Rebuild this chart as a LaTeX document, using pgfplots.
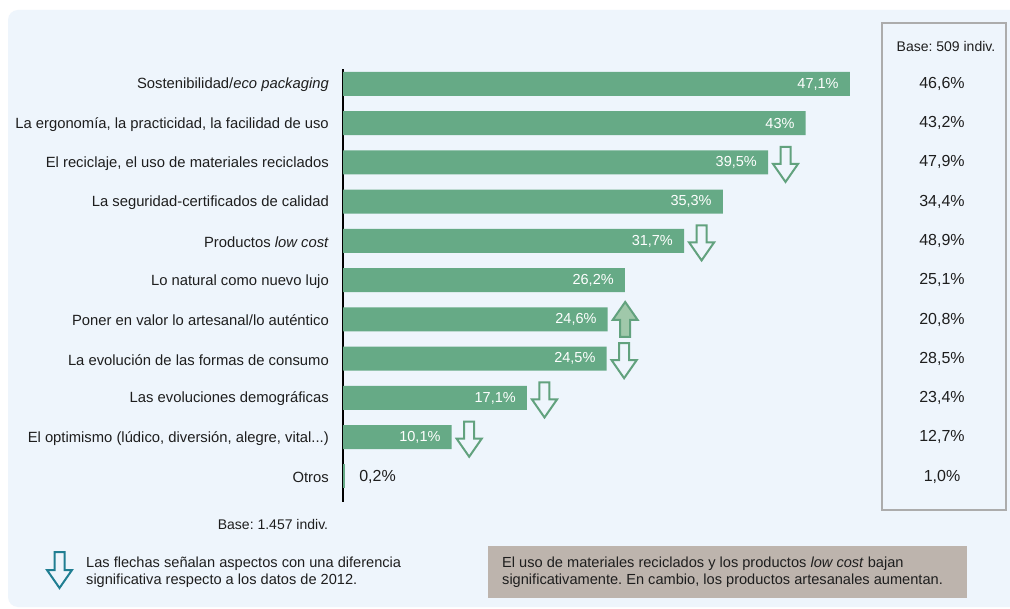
\documentclass[border=0pt]{standalone}
\usepackage{pgfplots}
\pgfplotsset{compat=1.18}
\usepackage{pgfplotstable}
\usepackage{fontspec}
\setmainfont{Liberation Sans}
\frenchspacing

\definecolor{panel}{RGB}{238,245,252}
\definecolor{barra}{RGB}{102,170,134}
\definecolor{flecha}{RGB}{98,162,126}
\definecolor{flechasube}{RGB}{160,200,170}
\definecolor{marco}{RGB}{172,172,172}
\definecolor{nota}{RGB}{189,180,173}
\definecolor{azulflecha}{RGB}{32,126,146}
\definecolor{texto}{RGB}{30,30,30}

% idx = fila, val = dato actual, prev = columna derecha
\pgfplotstableread{
idx val prev
0 47.1 46.6
1 43 43.2
2 39.5 47.9
3 35.3 34.4
4 31.7 48.9
5 26.2 25.1
6 24.6 20.8
7 24.5 28.5
8 17.1 23.4
9 10.1 12.7
10 0.2 1.0
}\datos

\pgfplotstableread{
idx val
2 39.5
4 31.7
7 24.5
8 17.1
9 10.1
}\bajan

\pgfplotstableread{
idx val
6 24.6
}\suben

\pgfdeclareplotmark{flechabaja}{%
  \pgfpathmoveto{\pgfpoint{12.5pt}{15.5pt}}
  \pgfpathlineto{\pgfpoint{22.5pt}{15.5pt}}
  \pgfpathlineto{\pgfpoint{22.5pt}{-1.5pt}}
  \pgfpathlineto{\pgfpoint{30pt}{-1.5pt}}
  \pgfpathlineto{\pgfpoint{17.5pt}{-19.5pt}}
  \pgfpathlineto{\pgfpoint{5pt}{-1.5pt}}
  \pgfpathlineto{\pgfpoint{12.5pt}{-1.5pt}}
  \pgfpathclose
  \pgfusepathqfillstroke}

\pgfdeclareplotmark{flechasube}{%
  \pgfpathmoveto{\pgfpoint{17.5pt}{17.5pt}}
  \pgfpathlineto{\pgfpoint{30pt}{-0.5pt}}
  \pgfpathlineto{\pgfpoint{22.5pt}{-0.5pt}}
  \pgfpathlineto{\pgfpoint{22.5pt}{-17.5pt}}
  \pgfpathlineto{\pgfpoint{12.5pt}{-17.5pt}}
  \pgfpathlineto{\pgfpoint{12.5pt}{-0.5pt}}
  \pgfpathlineto{\pgfpoint{5pt}{-0.5pt}}
  \pgfpathclose
  \pgfusepathqfillstroke}

\newcommand{\fuente}{\fontsize{14.8}{17}\selectfont}
\newcommand{\fuenteval}{\fontsize{14.5}{17}\selectfont}
\newcommand{\fuentecol}{\fontsize{16}{18}\selectfont}
\newcommand{\fuentepie}{\fontsize{14.6}{17}\selectfont}

\begin{document}
\begin{tikzpicture}[x=1pt, y=1pt]
\path[use as bounding box] (0,0) rectangle (1010,-609);
\fill[white] (0,0) rectangle (1010,-609);
\fill[panel, rounded corners=10pt] (8,-10) rectangle (1022,-607);

\begin{axis}[
  at={(612pt,-285.5pt)}, anchor=center,
  scale only axis, width=538pt, height=433pt,
  xmin=0, xmax=50, ymin=-0.38, ymax=10.65,
  y dir=reverse,
  hide x axis,
  axis y line*=left,
  y axis line style={line width=2.7pt, black},
  ytick={0,1,2,3,4,5,6,7,8,9,10},
  yticklabels={
    Sostenibilidad/\textit{eco packaging},
    {La ergonomía, la practicidad, la facilidad de uso},
    {El reciclaje, el uso de materiales reciclados},
    La seguridad-certificados de calidad,
    Productos \textit{low cost},
    Lo natural como nuevo lujo,
    Poner en valor lo artesanal/lo auténtico,
    La evolución de las formas de consumo,
    Las evoluciones demográficas,
    {El optimismo (lúdico, diversión, alegre, vital{...})},
    Otros},
  major tick length=0pt,
  ytick style={draw=none},
  yticklabel style={anchor=east, inner sep=0pt, xshift=-14pt, yshift=-1pt, text=texto, font=\fuente},
  clip=false,
  /pgf/number format/use comma,
  /pgf/number format/assume math mode=true,
]
% barras con etiqueta dentro
\addplot[xbar, bar width=24pt, bar shift=0pt, fill=barra, draw=none,
  skip coords between index={10}{11},
  point meta=x,
  nodes near coords={\pgfmathprintnumber{\pgfplotspointmeta}\%},
  nodes near coords style={anchor=east, inner sep=0pt, xshift=-11pt, text=white, font=\fuenteval}]
  table[x=val, y=idx] {\datos};
% Otros, etiqueta fuera
\addplot[xbar, bar width=24pt, bar shift=0pt, fill=barra, draw=none,
  skip coords between index={0}{10},
  point meta=x,
  nodes near coords={\pgfmathprintnumber{\pgfplotspointmeta}\%},
  nodes near coords style={anchor=west, inner sep=0pt, xshift=14pt, text=texto, font=\fuentecol}]
  table[x=val, y=idx] {\datos};
% columna derecha
\addplot[draw=none, mark=none,
  point meta=explicit,
  nodes near coords={\pgfmathprintnumber[fixed, fixed zerofill, precision=1]{\pgfplotspointmeta}\%},
  nodes near coords style={anchor=center, inner sep=0pt, text=texto, font=\fuentecol}]
  table[x expr=55.67, y=idx, meta=prev] {\datos};
% flechas
\addplot[only marks, mark=flechabaja,
  mark options={draw=flecha, fill=panel, line width=2pt, line join=miter}]
  table[x=val, y=idx] {\bajan};
\addplot[only marks, mark=flechasube,
  mark options={draw=flecha, fill=flechasube, line width=2pt, line join=miter}]
  table[x=val, y=idx] {\suben};
\end{axis}

% recuadro derecho
\draw[marco, line width=2pt] (882,-23) rectangle (1006,-510);
\node[text=texto, font=\fontsize{14}{16}\selectfont] at (946,-47) {Base: 509 indiv.};

% pie
\node[text=texto, font=\fontsize{14}{16}\selectfont] at (273,-524) {Base: 1.457 indiv.};
\draw[azulflecha, line width=2pt, line join=miter, fill=panel]
  (54.5,-552) -- (64.5,-552) -- (64.5,-570) -- (72,-570) -- (59.5,-588)
  -- (47,-570) -- (54.5,-570) -- cycle;
\node[anchor=west, align=left, text=texto, font=\fuentepie, inner sep=0pt]
  at (86,-572.5) {Las flechas señalan aspectos con una diferencia\\significativa respecto a los datos de 2012.};

\fill[nota] (488,-546) rectangle (967,-598);
\node[anchor=west, align=left, text=texto, font=\fuentepie, inner sep=0pt]
  at (502,-572) {El uso de materiales reciclados y los productos \textit{low cost} bajan\\significativamente. En cambio, los productos artesanales aumentan.};
\end{tikzpicture}
\end{document}
